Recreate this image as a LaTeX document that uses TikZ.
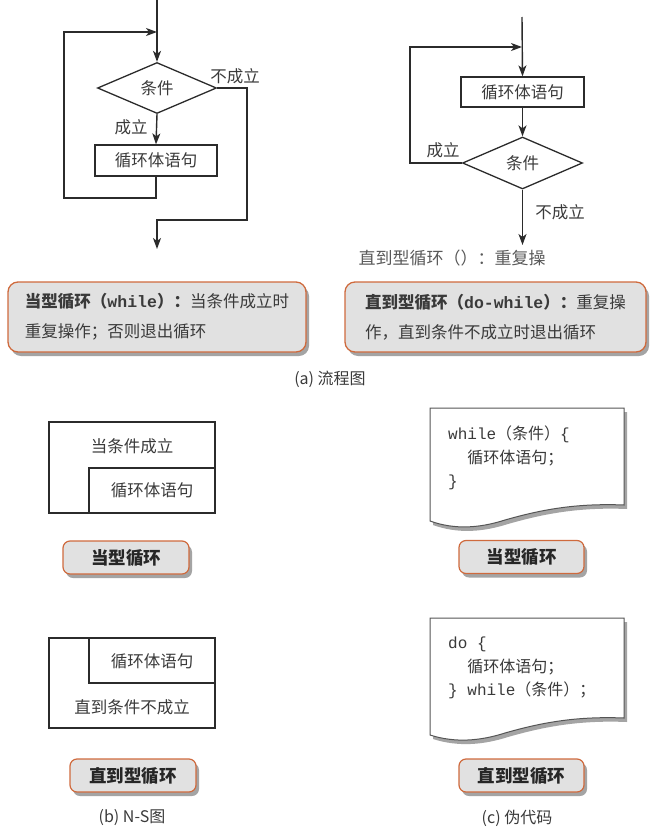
\documentclass[tikz,border=0pt]{standalone}
\usepackage{fontspec}
\setmainfont{Noto Sans CJK SC}
\newfontfamily\codefont{Liberation Mono}
\usetikzlibrary{arrows.meta,shapes.geometric,shadows}
\definecolor{ink}{HTML}{2B2B2B}
\definecolor{txt}{HTML}{3A3A3A}
\definecolor{rim}{HTML}{CF6A3D}
\definecolor{pad}{HTML}{E1E1E1}
\newcommand{\fA}{\fontsize{16.5}{20}\selectfont}
\newcommand{\fB}{\fontsize{16}{19}\selectfont}
\newcommand{\fN}{\fontsize{16.5}{30}\selectfont}
\newcommand{\fC}{\fontsize{16}{23.5}\selectfont}
\begin{document}
\begin{tikzpicture}[x=1pt,y=-1pt,
  line/.style={draw=ink, line width=1.4pt},
  arr/.style={line, -{Stealth[length=11pt,width=8pt,inset=3pt]}},
  proc/.style={draw=ink, line width=1.3pt, inner sep=0, font=\fA, text=txt},
  cond/.style={diamond, draw=ink, line width=1.3pt, minimum width=119pt, minimum height=51pt, inner sep=0, font=\fA, text=txt},
  lbl/.style={font=\fA, text=txt},
  dshadow/.style={drop shadow={shadow xshift=3pt, shadow yshift=-4pt, opacity=0.55, fill=black!65}},
  note/.style={draw=rim, line width=1.3pt, fill=pad, rounded corners=10pt, dshadow, align=left, font=\fN, text=txt, minimum height=70pt},
  btn/.style={draw=rim, line width=1.2pt, fill=pad, rounded corners=7pt, dshadow, minimum height=33pt, font=\fontsize{17.5}{20}\selectfont\bfseries, text=black!85},
  code/.style={align=left, font=\fC, text=txt, inner sep=0},
  captext/.style={font=\fB, text=txt},
  ns/.style={draw=ink, line width=1.4pt}]
\useasboundingbox (0,0) rectangle (660,830);

% ---------- (a) left: while flowchart ----------
\coordinate (ltop) at (157,0);
\node[cond] (ld) at (157,88) {条件};
\node[proc, minimum width=122pt, minimum height=31pt] (lb) at (156,160.5) {循环体语句};
\coordinate (lj) at (157,32);
\coordinate (lbl) at (64,198);
\coordinate (lr) at (247,220);
\coordinate (lout) at (157,249);
\draw[arr] (ltop) -- (ld.north);
\draw[arr] (ld.south) -- (lb.north);
\draw[arr] (lb.south) |- (lbl) |- (lj);
\draw[arr] (ld.east) -| (lr) -| (lout);
\node[lbl] (lyes) at (131,127) {成立};
\node[lbl] (lno) at (235,76) {不成立};

% ---------- (a) right: do-while flowchart ----------
\coordinate (rtop) at (522,17);
\node[proc, minimum width=123pt, minimum height=30pt] (rb) at (522.5,92) {循环体语句};
\node[cond, minimum width=120pt, minimum height=52pt] (rd) at (522.5,163) {条件};
\coordinate (rj) at (522,47);
\coordinate (rl) at (410,163);
\coordinate (rout) at (522.5,245);
\draw[arr] (rtop) -- (rb.north);
\draw[arr] (rb.south) -- (rd.north);
\draw[arr] (rd.west) -- (rl) |- (rj);
\draw[arr] (rd.south) -- (rout);
\node[lbl] (ryes) at (443,150) {成立};
\node[lbl] (rno) at (560,212) {不成立};
\node[font=\fontsize{17}{20}\selectfont, text=black!65] (stray) at (452,258) {直到型循环（）：重复操};

% ---------- (a) notes ----------
\node[note, minimum width=298pt] (n1) at (157,317)
  {{\bfseries 当型循环（{\codefont while}）：}当条件成立时\\重复操作；否则退出循环};
\node[note, minimum width=301pt] (n2) at (495.5,317)
  {{\bfseries 直到型循环（{\codefont do-while}）：}重复操\\作，直到条件不成立时退出循环};
\node[captext] (capa) at (330,379) {(a) 流程图};

% ---------- (b) N-S diagrams ----------
\draw[ns] (49,422) rectangle (215,513);
\draw[ns] (89,468) rectangle (215,513);
\node[lbl] (ns1a) at (132,446) {当条件成立};
\node[lbl] (ns1b) at (152,490) {循环体语句};
\node[btn, minimum width=126pt] (b1) at (126,557.5) {当型循环};

\draw[ns] (49,638) rectangle (215,728);
\draw[ns] (89,638) rectangle (215,683);
\node[lbl] (ns2b) at (152,661) {循环体语句};
\node[lbl] (ns2a) at (132,707) {直到条件不成立};
\node[btn, minimum width=126pt] (b3) at (133,775.5) {直到型循环};
\node[captext] (capb) at (132,818) {(b) N-S图};

% ---------- (c) pseudo code ----------
\path[draw=ink!80, line width=1pt, fill=white, dshadow]
  (430,408) -- (624,408) -- (624,505)
  .. controls (575,503) and (540,510) .. (505,520)
  .. controls (480,528) and (455,530) .. (430,521) -- cycle;
\node[code, anchor=west] (c1) at (448,458)
  {{\codefont while}（条件）{\codefont\{}\\{\codefont\phantom{xx}}循环体语句；\\{\codefont\}}};
\node[btn, minimum width=125pt] (b2) at (521.5,557) {当型循环};

\path[draw=ink!80, line width=1pt, fill=white, dshadow]
  (430,618) -- (624,618) -- (624,718)
  .. controls (575,716) and (540,723) .. (505,733)
  .. controls (480,741) and (455,743) .. (430,735) -- cycle;
\node[code, anchor=west] (c2) at (448,668)
  {{\codefont do \{}\\{\codefont\phantom{xx}}循环体语句；\\{\codefont\} while}（条件）；};
\node[btn, minimum width=125pt] (b4) at (521.5,775.5) {直到型循环};
\node[captext] (capc) at (517,818) {(c) 伪代码};
\end{tikzpicture}
\end{document}
